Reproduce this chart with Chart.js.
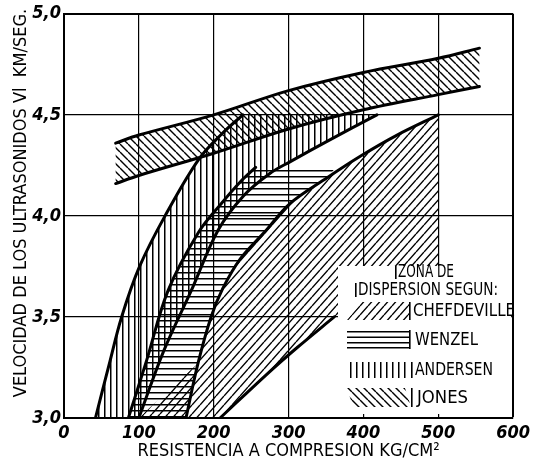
<!DOCTYPE html>
<html><head><meta charset="utf-8">
<script src="https://cdn.jsdelivr.net/npm/chart.js@4.4.1/dist/chart.umd.min.js"></script>
<style>html,body{margin:0;padding:0;background:#fff;}canvas{display:block}</style>
</head><body>
<canvas id="c" width="535" height="471"></canvas>
<script>
// ---- data (x = resistencia kg/cm2, y = velocidad km/s) ----
const xTicks = [0, 100, 200, 300, 400, 500, 600];
const yTicks = [3.0, 3.5, 4.0, 4.5, 5.0];
const jonesUpper = [[69,4.36],[100,4.40],[200,4.50],[300,4.62],[400,4.71],[500,4.78],[555,4.83]];
const jonesLower = [[69,4.16],[100,4.20],[200,4.31],[300,4.43],[400,4.525],[500,4.60],[555,4.64]];
const andersenLeft = [[42,3.0],[60,3.26],[77,3.5],[101,3.75],[135,4.0],[180,4.28],[212,4.41],[239,4.5]];
const andersenTop = 4.5;
const andersenRight = [[100,3.0],[133,3.33],[170,3.63],[206,3.93],[240,4.10],[275,4.21],[303,4.27],[352,4.37],[418,4.5]];
const wenzelLeft = [[86,3.0],[110,3.28],[139,3.63],[180,3.92],[210,4.06],[236,4.17],[256,4.24]];
const wenzelTop = [[256,4.24],[363,4.24]];
const chefUpper = [[163,3.0],[179,3.27],[196.5,3.5],[212,3.64],[236,3.79],[268,3.92],[301.5,4.06],[352,4.19],[398,4.30],[445,4.40],[500,4.5]];
const chefLeftLow = [[100,3.0],[140,3.14],[179,3.27]];
const chefRight = [[500,4.5],[500,3.5],[361,3.5]];
const chefLower = [[208.5,3.0],[272,3.22],[312,3.35],[361,3.5]];
const legendHeader = ['ZONA DE', 'DISPERSION SEGUN:'];
const legendNames = ['CHEFDEVILLE', 'WENZEL', 'ANDERSEN', 'JONES'];
const xTitle = 'RESISTENCIA A COMPRESION KG/CM\u00B2';
const yTitle = 'VELOCIDAD DE LOS ULTRASONIDOS Vl  KM/SEG.';

const FONT = "'Liberation Sans Narrow','DejaVu Sans Condensed','Liberation Sans',sans-serif";

function hatch(kind){
  const sz = {chef:[8,9], jones:[8,8], vert:[6,6], horiz:[6,6]}[kind];
  const w = sz[0], h = sz[1];
  const c = document.createElement('canvas'); c.width = w; c.height = h;
  const g = c.getContext('2d');
  g.fillStyle = '#000'; g.strokeStyle = '#000'; g.lineWidth = 1.4;
  if (kind === 'vert') { g.fillRect(2,0,1.5,h); }
  else if (kind === 'horiz') { g.fillRect(0,2,w,1.5); }
  else {
    g.beginPath();
    for (let k=-1;k<=1;k++){
      if (kind==='chef'){ g.moveTo(k*w,h); g.lineTo(k*w+w,0); }
      else { g.moveTo(k*w,0); g.lineTo(k*w+w,h); }
    }
    g.stroke();
  }
  return g.createPattern(c,'repeat');
}
const P = {chef:hatch('chef'), jones:hatch('jones'), vert:hatch('vert'), horiz:hatch('horiz')};

const pts = a => a.map(p => ({x:p[0], y:p[1]}));
const rev = a => a.slice().reverse();

const jonesPoly = [...jonesUpper, ...rev(jonesLower)];
const andersenPoly = [...andersenLeft, [andersenRight[andersenRight.length-1][0], andersenTop], ...rev(andersenRight)];
const wenzelPoly = [...wenzelLeft, ...wenzelTop.slice(1), ...rev(chefUpper.filter(p => p[1] < 4.22))];
const chefPoly = [...chefLeftLow, ...chefUpper.filter(p => p[1] > 3.27), ...chefRight.slice(1), ...rev(chefLower)];

function poly(data, pattern){
  return {data: pts(data), fill:'shape', backgroundColor: pattern, borderWidth:0, tension:0, pointRadius:0, order:2};
}
function curve(data){
  return {data: pts(data), fill:false, borderColor:'#000', borderWidth:3, tension:0.35, pointRadius:0, order:1, borderCapStyle:'round'};
}

const legendPlugin = {
  id:'zoneLegend',
  afterDatasetsDraw(chart){
    const ctx = chart.ctx, a = chart.chartArea;
    ctx.save();
    ctx.fillStyle = '#fff';
    ctx.fillRect(338, 266, a.right - 2 - 338, a.bottom - 4 - 266);
    ctx.fillStyle = '#000';
    ctx.textBaseline = 'middle';
    function txt(s, x, cy, w, size){
      ctx.font = size + 'px ' + FONT;
      const m = ctx.measureText(s).width;
      ctx.save(); ctx.translate(x, cy); ctx.scale(w / m, 1); ctx.fillText(s, 0, 0); ctx.restore();
    }
    function bar(x, y0, y1){ ctx.fillRect(x, y0, 1.6, y1 - y0); }
    txt(legendHeader[0], 398, 272, 56, 18); bar(395, 266, 279);
    txt(legendHeader[1], 358, 290, 140, 18); bar(355, 283, 297);
    // swatches
    ctx.fillStyle = P.chef;
    ctx.beginPath(); ctx.moveTo(347,320); ctx.lineTo(362,302); ctx.lineTo(410,302); ctx.lineTo(410,320); ctx.closePath(); ctx.fill();
    ctx.fillStyle = '#000';
    bar(409, 302, 320);
    [331, 336.5, 342, 347].forEach(y => ctx.fillRect(347, y, 63, 1.5));
    bar(409, 330, 349);
    ctx.fillStyle = P.vert; ctx.fillRect(347, 362, 63, 16);
    ctx.fillStyle = '#000'; bar(411, 362, 378);
    ctx.fillStyle = P.jones;
    ctx.beginPath(); ctx.moveTo(347,388); ctx.lineTo(405,388); ctx.lineTo(411,407); ctx.lineTo(353,407); ctx.closePath(); ctx.fill();
    ctx.fillStyle = '#000'; bar(411, 388, 407);
    txt(legendNames[0], 413, 311, 102, 18);
    txt(legendNames[1], 415, 340, 63, 18);
    txt(legendNames[2], 415, 370, 78, 18);
    txt(legendNames[3], 417, 398, 51, 18);
    ctx.restore();
  }
};

new Chart(document.getElementById('c'), {
  type:'line',
  data:{datasets:[
    poly(jonesPoly, P.jones),
    poly(andersenPoly, P.vert),
    poly(wenzelPoly, P.horiz),
    poly(chefPoly, P.chef),
    curve(jonesUpper), curve(jonesLower),
    curve(andersenLeft), curve(andersenRight), curve(wenzelLeft),
    curve(chefUpper), curve(chefLower)
  ]},
  options:{
    responsive:false, animation:false, devicePixelRatio:1,
    layout:{padding:{top:13, right:18, left:0, bottom:0}},
    plugins:{legend:{display:false}, tooltip:{enabled:false}},
    scales:{
      x:{type:'linear', min:0, max:600,
        afterBuildTicks:s=>{ s.ticks = xTicks.map(v=>({value:v})); },
        afterFit:s=>{ s.height = 53; },
        grid:{color:'#000', lineWidth:c=> (c.tick && c.tick.value===600) ? 2 : 1.2, drawTicks:false},
        border:{display:true, color:'#000', width:2},
        ticks:{padding:5, color:'#000', autoSkip:false, maxRotation:0,
          font:{family:FONT, size:18, weight:'bold', style:'italic'}, callback:v=>String(v)},
        title:{display:true, text:xTitle, color:'#000', font:{family:FONT, size:18}, padding:{top:0, bottom:9}}
      },
      y:{type:'linear', min:3, max:5,
        afterBuildTicks:s=>{ s.ticks = yTicks.map(v=>({value:v})); },
        afterFit:s=>{ s.width = 64; },
        grid:{color:'#000', lineWidth:c=> (c.tick && c.tick.value===5) ? 2 : 1.2, drawTicks:false},
        border:{display:true, color:'#000', width:2},
        ticks:{padding:3, color:'#000', autoSkip:false,
          font:{family:FONT, size:18, weight:'bold', style:'italic'}, callback:v=>Number(v).toFixed(1).replace('.',',')},
        title:{display:true, text:'     ' + yTitle, color:'#000', font:{family:FONT, size:18}, padding:{top:11, bottom:0}}
      }
    }
  },
  plugins:[legendPlugin]
});
</script>
</body></html>
